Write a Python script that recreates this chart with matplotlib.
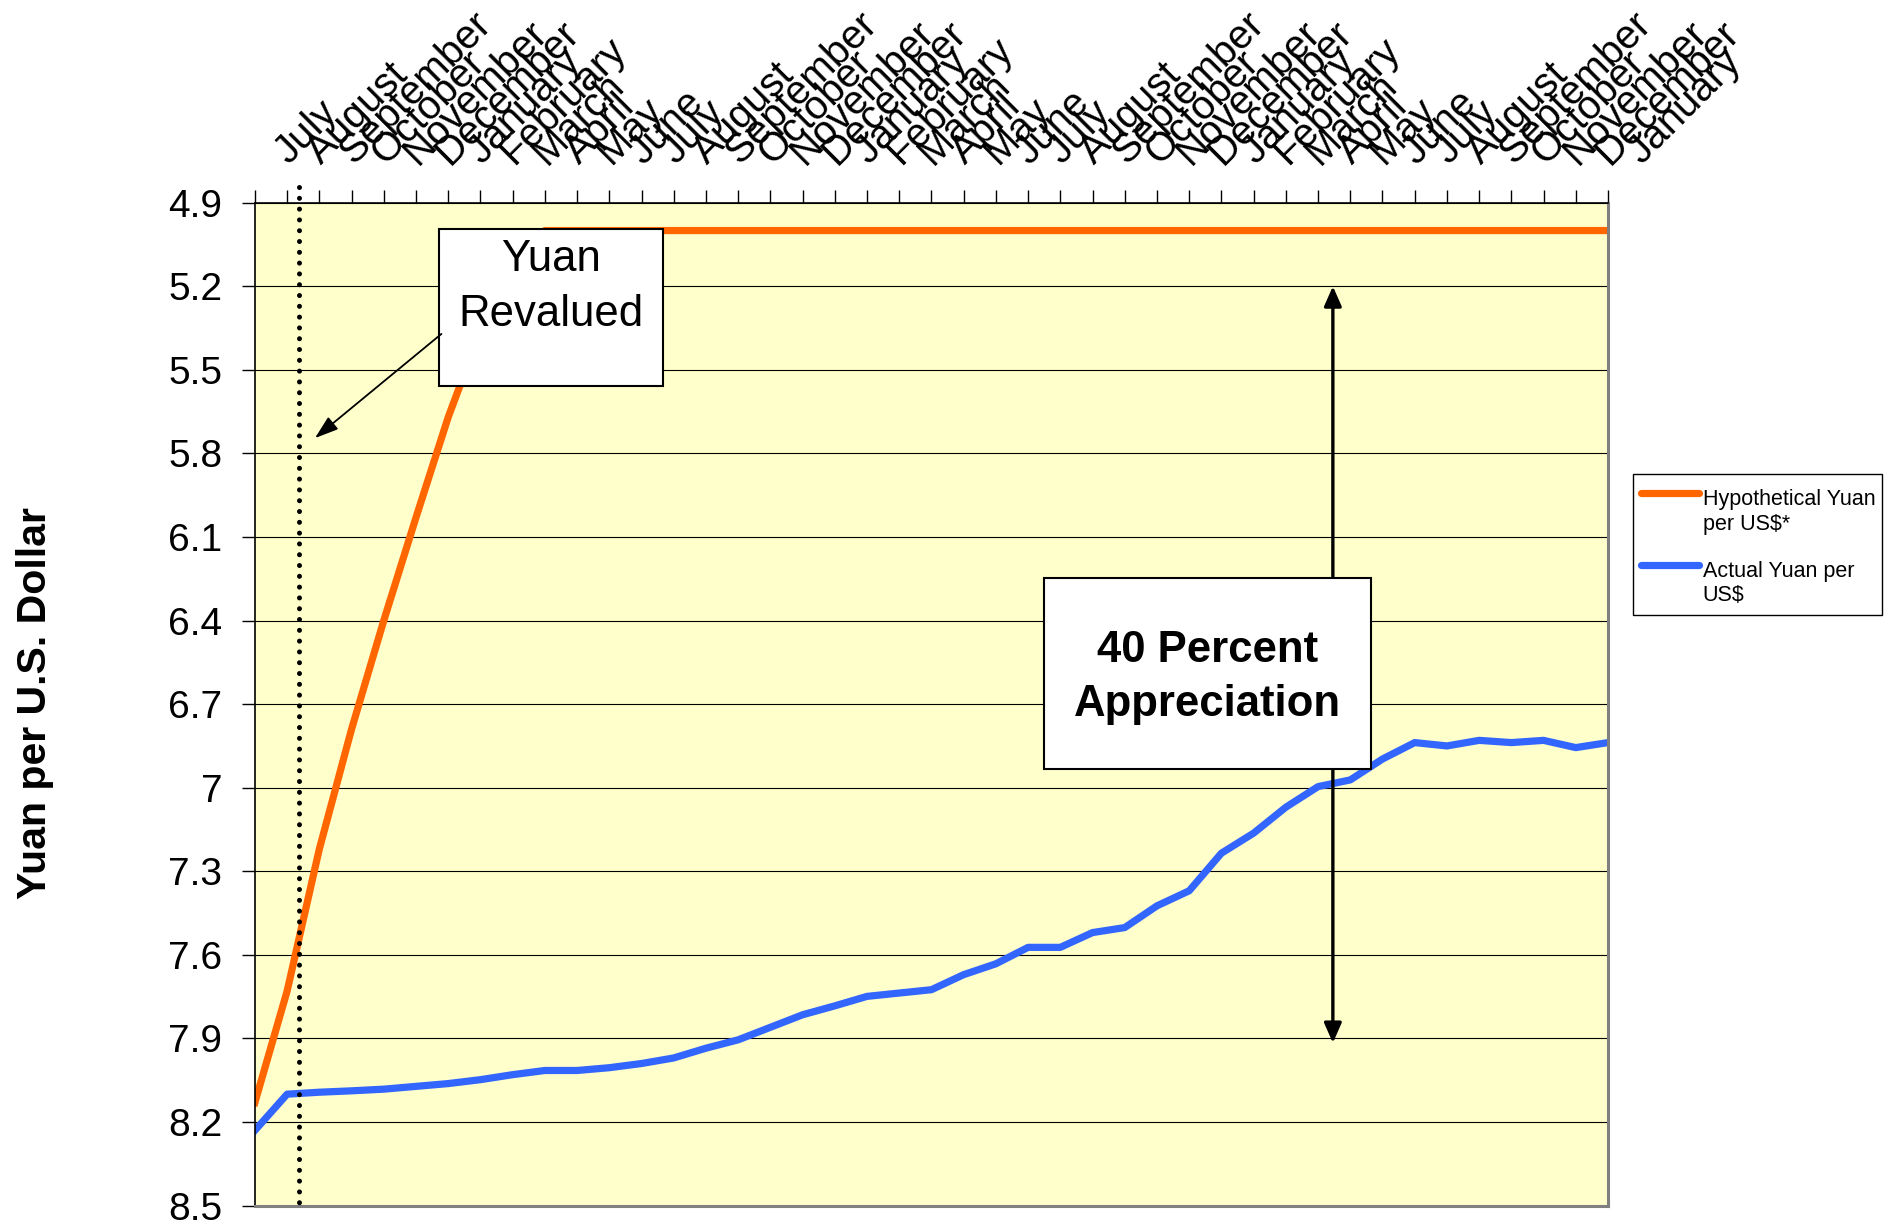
"""Yuan per US dollar: hypothetical revaluation vs actual rate."""

import matplotlib

matplotlib.use("Agg")
import matplotlib.pyplot as plt
import matplotlib.transforms as mtransforms
from matplotlib.lines import Line2D
from matplotlib.patches import Rectangle

# Month labels along the top axis (July of year one through January of year four)
MONTHS = [
    "July", "August", "September", "October", "November", "December",
    "January", "February", "March", "April", "May", "June",
    "July", "August", "September", "October", "November", "December",
    "January", "February", "March", "April", "May", "June",
    "July", "August", "September", "October", "November", "December",
    "January", "February", "March", "April", "May", "June",
    "July", "August", "September", "October", "November", "December",
    "January",
]

HYPOTHETICAL = [
    8.13, 7.73, 7.22, 6.79, 6.40, 6.03, 5.67, 5.36, 5.13, 5.00,
    5.00, 5.00, 5.00, 5.00, 5.00, 5.00, 5.00, 5.00, 5.00, 5.00,
    5.00, 5.00, 5.00, 5.00, 5.00, 5.00, 5.00, 5.00, 5.00, 5.00,
    5.00, 5.00, 5.00, 5.00, 5.00, 5.00, 5.00, 5.00, 5.00, 5.00,
    5.00, 5.00, 5.00,
]

ACTUAL = [
    8.23, 8.10, 8.093, 8.088, 8.082, 8.072, 8.062, 8.048, 8.03, 8.015,
    8.015, 8.005, 7.99, 7.97, 7.935, 7.905, 7.86, 7.815, 7.783, 7.749,
    7.737, 7.725, 7.671, 7.632, 7.573, 7.573, 7.52, 7.502, 7.424, 7.37,
    7.235, 7.163, 7.07, 6.996, 6.972, 6.897, 6.838, 6.85, 6.83, 6.838,
    6.83, 6.856, 6.838,
]

Y_TICKS = [4.9, 5.2, 5.5, 5.8, 6.1, 6.4, 6.7, 7.0, 7.3, 7.6, 7.9, 8.2, 8.5]
Y_TICK_LABELS = ["4.9", "5.2", "5.5", "5.8", "6.1", "6.4", "6.7", "7",
                 "7.3", "7.6", "7.9", "8.2", "8.5"]

LEGEND_LABELS = ["Hypothetical Yuan\nper US$*", "Actual Yuan per\nUS$"]

ORANGE = "#FF6600"
BLUE = "#3366FF"
PLOT_BG = "#FFFFCC"
FIG_W, FIG_H = 1894, 1225
LINE_W = 5.2

plt.rcParams["font.family"] = ["Liberation Sans", "DejaVu Sans"]


def fig_xy(px, py):
    """Pixel position (from top-left) to figure fraction."""
    return px / FIG_W, 1 - py / FIG_H


fig = plt.figure(figsize=(FIG_W / 100, FIG_H / 100), dpi=100)
ax = fig.add_axes([254.9 / FIG_W, 1 - 1205.6 / FIG_H,
                   1353.1 / FIG_W, 1002.9 / FIG_H])
ax.set_facecolor(PLOT_BG)

x = list(range(len(MONTHS)))
ax.plot(x, HYPOTHETICAL, color=ORANGE, lw=LINE_W, solid_joinstyle="round",
        zorder=2)
ax.plot(x, ACTUAL, color=BLUE, lw=LINE_W, solid_joinstyle="round", zorder=2)

ax.set_xlim(0, len(MONTHS) - 1)
ax.set_ylim(8.5, 4.9)

# value axis
ax.set_yticks(Y_TICKS)
ax.set_yticklabels(Y_TICK_LABELS)
ax.tick_params(axis="y", direction="out", length=9.4, width=1, pad=14,
               labelsize=28, colors="black")
ax.yaxis.grid(True, color="black", lw=0.8)

# category axis on top, labels drawn as rotated texts
ax.xaxis.tick_top()
ax.set_xticks(x)
ax.tick_params(axis="x", direction="out", length=9.1, width=1,
               labeltop=False, labelbottom=False)
label_offset = mtransforms.ScaledTranslation(0.34, 0.37, fig.dpi_scale_trans)
for i, month in enumerate(MONTHS):
    ax.text(i, 1.0, month, transform=ax.get_xaxis_transform() + label_offset,
            rotation=45, rotation_mode="anchor", ha="left", va="baseline",
            fontsize=29, clip_on=False)

for side in ("top", "left"):
    ax.spines[side].set_color("black")
    ax.spines[side].set_linewidth(1.2)
for side in ("right", "bottom"):
    ax.spines[side].set_color("#808080")
    ax.spines[side].set_linewidth(2.2)

# revaluation date marker
ax.plot([1.378, 1.378], [4.845, 8.5], color="black", lw=3.6,
        linestyle=(0, (0.01, 2.15)), dash_capstyle="round", zorder=3,
        clip_on=False)

# "Yuan Revalued" call-out
ax.add_patch(Rectangle((5.714, 4.995), 12.667 - 5.714, 5.558 - 4.995,
                       facecolor="white", edgecolor="black", lw=1.5, zorder=4))
ax.text(9.19, 5.144, "Yuan", ha="center", va="baseline", fontsize=31.5, zorder=5)
ax.text(9.19, 5.342, "Revalued", ha="center", va="baseline", fontsize=31.5,
        zorder=5)
ax.annotate("", xy=(1.864, 5.745), xytext=(5.79, 5.371),
            arrowprops=dict(arrowstyle="-|>,head_length=0.6,head_width=0.2",
                            mutation_scale=24, color="black", lw=1.3,
                            shrinkA=0, shrinkB=0),
            zorder=5)

# appreciation span
ax.annotate("", xy=(33.46, 5.2), xytext=(33.46, 7.916),
            arrowprops=dict(arrowstyle="<|-|>,head_length=0.5,head_width=0.22",
                            mutation_scale=24, color="black", lw=2.4,
                            shrinkA=0, shrinkB=0),
            zorder=3)
ax.add_patch(Rectangle((24.49, 6.248), 34.64 - 24.49, 6.934 - 6.248,
                       facecolor="white", edgecolor="black", lw=1.5, zorder=4))
ax.text(29.57, 6.548, "40 Percent", ha="center", va="baseline", fontsize=31.5,
        fontweight="bold", zorder=5)
ax.text(29.57, 6.742, "Appreciation", ha="center", va="baseline",
        fontsize=31.5, fontweight="bold", zorder=5)

fig.text(*fig_xy(35, 703.5), "Yuan per U.S. Dollar", rotation=90,
         ha="center", va="center", fontsize=29.5, fontweight="bold")

# legend, drawn by hand so handles line up with the first text row
lx0, ly0 = fig_xy(1633.3, 615)
lx1, ly1 = fig_xy(1881.7, 474)
fig.add_artist(Rectangle((lx0, ly0), lx1 - lx0, ly1 - ly0,
                         transform=fig.transFigure, facecolor="white",
                         edgecolor="black", lw=1.0))
for label, color, handle_y in zip(LEGEND_LABELS, [ORANGE, BLUE], [493.3, 565]):
    hx0, hy = fig_xy(1641, handle_y)
    hx1, _ = fig_xy(1699, handle_y)
    fig.add_artist(Line2D([hx0, hx1], [hy, hy], transform=fig.transFigure,
                          color=color, lw=LINE_W, solid_capstyle="round"))
    fig.text(*fig_xy(1702.7, handle_y - 4), label, ha="left", va="top",
             fontsize=15.5, linespacing=1.2)

fig.savefig("out.png", dpi=100)
